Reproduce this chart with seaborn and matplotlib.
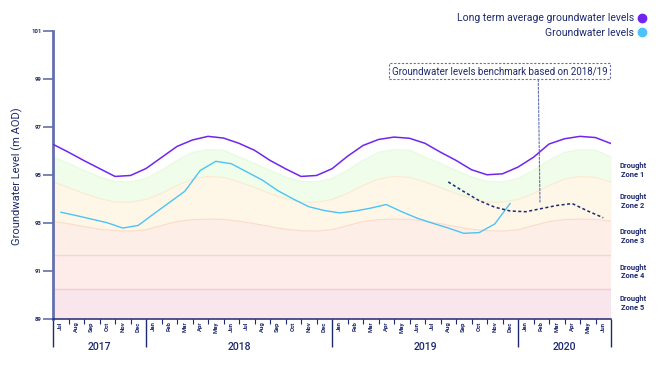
import numpy as np
import pandas as pd
import matplotlib
matplotlib.use("Agg")
import matplotlib.pyplot as plt
import seaborn as sns
from matplotlib.lines import Line2D
from matplotlib.transforms import blended_transform_factory

# ---------------- data ----------------
month_labels = ["Jul", "Aug", "Sep", "Oct", "Nov", "Dec",
                "Jan", "Feb", "Mar", "Apr", "May", "Jun"] * 3
year_labels = ["2017", "2018", "2019", "2020"]
year_month_counts = [6, 12, 12, 6]

# long term average, at month starts Jul 2017 .. Jul 2020
long_term_avg = [96.28, 95.95, 95.60, 95.27, 94.94, 94.98, 95.27, 95.73, 96.19, 96.46, 96.61, 96.54,
                 96.32, 96.03, 95.61, 95.26, 94.94, 94.98, 95.26, 95.78, 96.23, 96.48, 96.58, 96.53,
                 96.32, 95.95, 95.61, 95.22, 95.01, 95.05, 95.33, 95.74, 96.29, 96.51, 96.61, 96.56,
                 96.31]

# drought zone boundaries (month starts)
zone1_top = [95.75, 95.48, 95.19, 94.92, 94.73, 94.71, 94.85, 95.19, 95.61, 95.94, 96.05, 96.03] * 3 + [95.75]
zone2_top = [94.71, 94.48, 94.23, 94.02, 93.87, 93.87, 93.98, 94.23, 94.56, 94.83, 94.94, 94.90] * 3 + [94.71]
zone3_top = [93.07, 92.97, 92.85, 92.74, 92.68, 92.66, 92.72, 92.89, 93.06, 93.14, 93.16, 93.15] * 3 + [93.08]
zone4_top = 91.68
zone5_top = 90.26
axis_min = 89

# groundwater levels, mid-month Jul 2017 .. Dec 2019
groundwater = [93.45, 93.31, 93.16, 93.01, 92.79, 92.90, 93.38, 93.85, 94.32, 95.19, 95.57, 95.47,
               95.13, 94.79, 94.35, 94.00, 93.68, 93.52, 93.42, 93.50, 93.62, 93.77, 93.47, 93.20,
               92.99, 92.79, 92.57, 92.60, 92.96, 93.82]

# benchmark based on 2018/19, mid-month Aug 2019 .. Jun 2020
benchmark_start = 25
benchmark = [94.71, 94.31, 93.93, 93.66, 93.50, 93.47, 93.60, 93.73, 93.81, 93.50, 93.22]

y_ticks = [89, 91, 93, 95, 97, 99, 101]
zone_labels = ["Drought\nZone 1", "Drought\nZone 2", "Drought\nZone 3", "Drought\nZone 4", "Drought\nZone 5"]
legend_labels = ["Long term average groundwater levels", "Groundwater levels"]
annotation_text = "Groundwater levels benchmark based on 2018/19"

# ---------------- style ----------------
NAVY = "#1f2a6e"
AXIS = "#6470ad"
PURPLE = "#7224ee"
BLUE = "#4cc3f6"

sns.set_theme(style="white")
plt.rcParams["font.family"] = ["Roboto", "DejaVu Sans"]

fig = plt.figure(figsize=(6.58, 3.65), dpi=100)
ax = fig.add_axes([53 / 658, 1 - 319 / 365, 558 / 658, 288 / 365])

n_bound = len(long_term_avg)
bounds_x = np.arange(n_bound)
df_avg = pd.DataFrame({"pos": bounds_x, "level": long_term_avg})
df_gw = pd.DataFrame({"pos": np.arange(len(groundwater)) + 0.5, "level": groundwater})
df_bm = pd.DataFrame({"pos": np.arange(len(benchmark)) + benchmark_start + 0.5, "level": benchmark})

# zones
z4 = np.full(n_bound, zone4_top)
z5 = np.full(n_bound, zone5_top)
zb = np.full(n_bound, axis_min)
ax.fill_between(bounds_x, zone2_top, zone1_top, color="#f0fdea", lw=0, zorder=1)
ax.fill_between(bounds_x, zone3_top, zone2_top, color="#fef7e8", lw=0, zorder=1)
ax.fill_between(bounds_x, z4, zone3_top, color="#fdefe8", lw=0, zorder=1)
ax.fill_between(bounds_x, z5, z4, color="#fdecea", lw=0, zorder=1)
ax.fill_between(bounds_x, zb, z5, color="#f9e5ec", lw=0, zorder=1)
ax.plot(bounds_x, zone1_top, color="#e8fadf", lw=0.9, zorder=2)
ax.plot(bounds_x, zone2_top, color="#fbebd2", lw=0.9, zorder=2)
ax.plot(bounds_x, zone3_top, color="#fcdccd", lw=0.9, zorder=2)
ax.plot(bounds_x, z4, color="#fbd2cd", lw=1.0, zorder=2)
ax.plot(bounds_x, z5, color="#f7cbce", lw=1.0, zorder=2)

sns.lineplot(data=df_avg, x="pos", y="level", ax=ax, color=PURPLE, lw=1.1, zorder=4)
sns.lineplot(data=df_gw, x="pos", y="level", ax=ax, color=BLUE, lw=1.0, zorder=4)
sns.lineplot(data=df_bm, x="pos", y="level", ax=ax, color=NAVY, lw=1.1, zorder=5,
             linestyle=(0, (2, 1.6)))

ax.set_xlim(0, n_bound - 1)
ax.set_ylim(axis_min, 101)
ax.set_xlabel("")
ax.set_ylabel("")

# y axis
ax.set_yticks(y_ticks)
ax.set_yticklabels([str(t) for t in y_ticks], fontsize=4.3, fontweight="bold", color=NAVY)
ax.tick_params(axis="y", length=7.2, width=1.2, color=AXIS, pad=1, left=True)

# x axis ticks
year_bounds = np.concatenate([[0], np.cumsum(year_month_counts)])
ax.set_xticks(year_bounds)
ax.set_xticklabels([])
ax.set_xticks(bounds_x, minor=True)
ax.tick_params(axis="x", which="major", length=20, width=1.0, color=NAVY, bottom=True)
ax.tick_params(axis="x", which="minor", length=3.6, width=0.8, color=NAVY, bottom=True)

for s in ["top", "right"]:
    ax.spines[s].set_visible(False)
ax.spines["left"].set_color(AXIS)
ax.spines["left"].set_linewidth(2)
ax.spines["bottom"].set_color(NAVY)
ax.spines["bottom"].set_linewidth(1.1)

trans = blended_transform_factory(ax.transData, ax.transAxes)
for i, lab in enumerate(month_labels):
    ax.text(i + 0.5, -0.009, lab, transform=trans, rotation=90, ha="center", va="top",
            fontsize=4.3, fontweight="bold", color=NAVY)
for i, lab in enumerate(year_labels):
    c = (year_bounds[i] + year_bounds[i + 1]) / 2
    ax.text(c, -0.0955, lab, transform=trans, ha="center", va="center",
            fontsize=7.6, fontweight="medium", color=NAVY)

# y label
fig.text(17 / 658, 1 - 176 / 365, "Groundwater Level (m AOD)", rotation=90,
         ha="center", va="center", fontsize=8, color=NAVY)

# drought zone labels
zone_y = [170.5, 201.5, 236.5, 272, 303.5]
for lab, yy in zip(zone_labels, zone_y):
    fig.text(633 / 658, 1 - yy / 365, lab, ha="center", va="center", fontsize=5.4,
             fontweight="bold", color=NAVY, linespacing=1.05)

# annotation
ax.annotate(annotation_text, xy=(31.42, 93.81), xytext=(28.8, 99.33),
            ha="center", va="center", fontsize=7, color=NAVY,
            bbox=dict(boxstyle="square,pad=0.3", fc="white", ec=AXIS, lw=0.8, ls=(0, (2, 1.5))),
            arrowprops=dict(arrowstyle="-", color=AXIS, lw=0.8, ls=(0, (2, 1.5)),
                            relpos=(0.68, 0.0), shrinkA=0, shrinkB=0),
            zorder=6)

# legend
handles = [Line2D([], [], marker="o", ls="", color=PURPLE, markersize=6),
           Line2D([], [], marker="o", ls="", color=BLUE, markersize=6)]
fig.legend(handles, legend_labels, loc="upper right", bbox_to_anchor=(654 / 658, 1 - 6 / 365),
           frameon=False, markerfirst=False, fontsize=7.5, handletextpad=0.2,
           labelspacing=0.45, labelcolor=NAVY, handlelength=1.0, borderpad=0.2)

fig.savefig("out.png", dpi=100)
